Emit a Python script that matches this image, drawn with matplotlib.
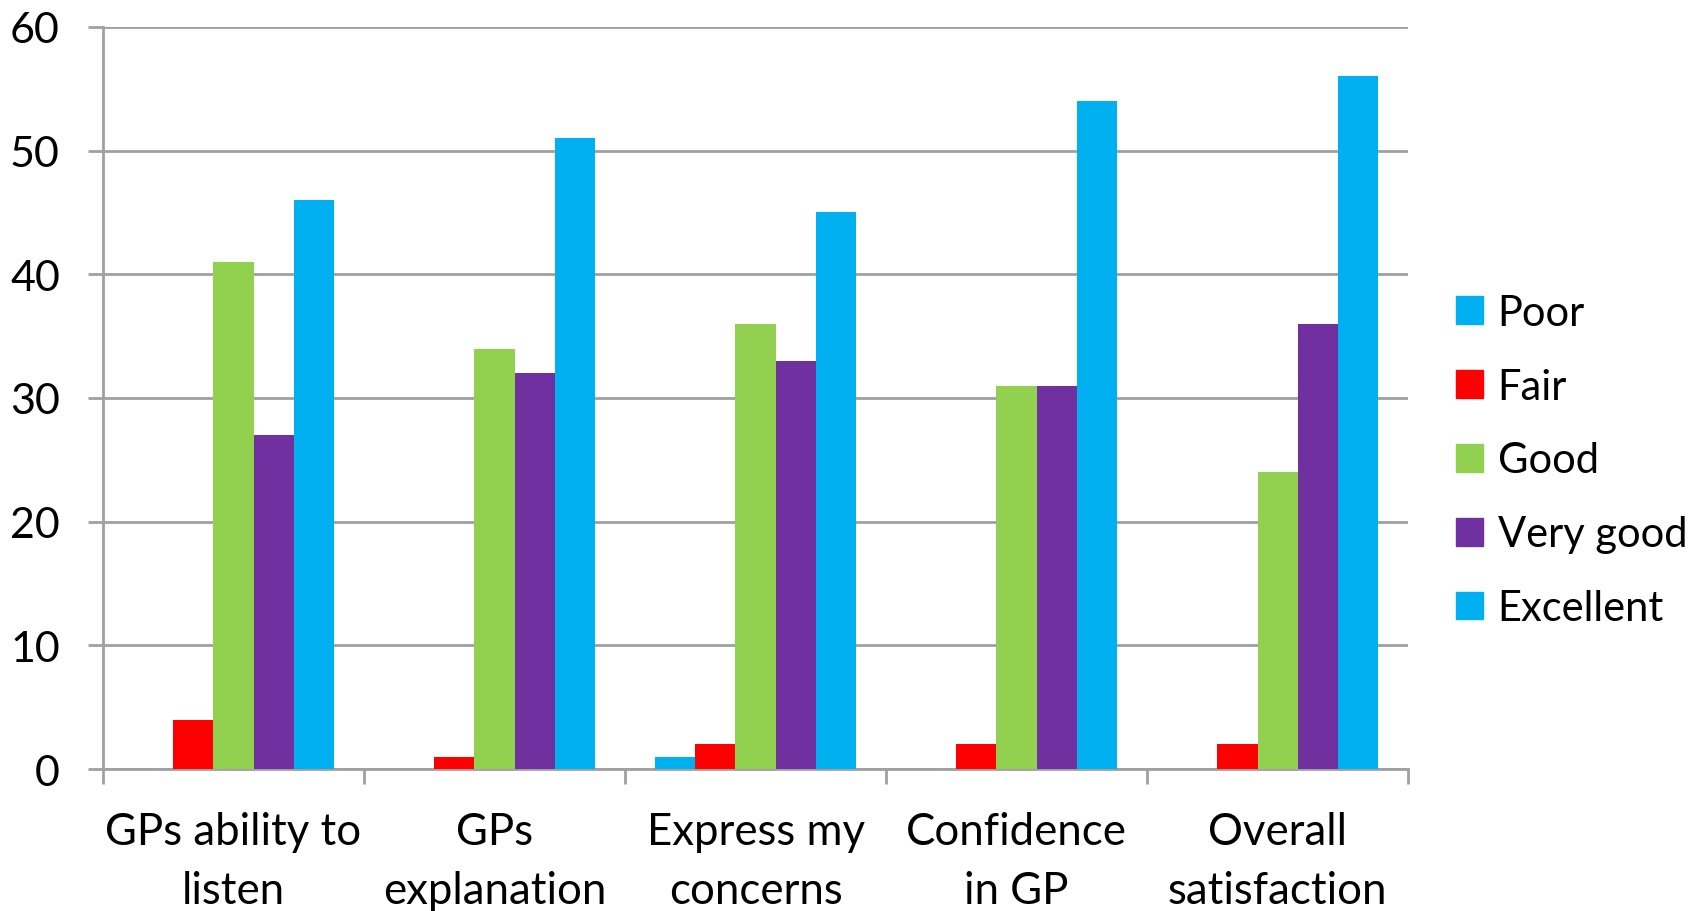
import matplotlib
matplotlib.use("Agg")
import matplotlib.pyplot as plt
from matplotlib.patches import Patch
import numpy as np

plt.rcParams['font.family'] = ['Lato', 'DejaVu Sans']

# donnees
categories = ["GPs ability to\nlisten", "GPs\nexplanation", "Express my\nconcerns",
              "Confidence\nin GP", "Overall\nsatisfaction"]
series = ["Poor", "Fair", "Good", "Very good", "Excellent"]
poor = [0, 0, 1, 0, 0]
fair = [4, 1, 2, 2, 2]
good = [41, 34, 36, 31, 24]
very_good = [27, 32, 33, 31, 36]
excellent = [46, 51, 45, 54, 56]
colors = ["#00B0F0", "#FF0000", "#92D050", "#7030A0", "#00B0F0"]

values = [poor, fair, good, very_good, excellent]

fig = plt.figure(figsize=(17.07, 9.12), dpi=100)
ax = fig.add_axes([0.0603, 0.1557, 0.7646, 0.8136])

x = np.arange(len(categories))
width = 1 / 6.5
for i, (name, vals) in enumerate(zip(series, values)):
    ax.bar(x + (i - 2) * width, vals, width, color=colors[i], label=name, zorder=3)

ax.set_xlim(-0.5, len(categories) - 0.5)
ax.set_ylim(0, 60)
ax.set_yticks(range(0, 61, 10))
ax.yaxis.grid(True, color="#A0A0A0", linewidth=2, zorder=0)

# ticks aux limites des categories, libelles au centre
ax.set_xticks(np.arange(-0.5, len(categories), 1))
ax.set_xticklabels([])
ax.set_xticks(x, minor=True)
ax.set_xticklabels(categories, minor=True, fontsize=31.5, linespacing=1.55)
ax.tick_params(axis='x', which='minor', length=0, pad=30)
ax.tick_params(axis='x', which='major', length=11, width=2, color="#A0A0A0")
ax.tick_params(axis='y', length=11, width=2, color="#A0A0A0", labelsize=31, pad=20)

for s in ["top", "right"]:
    ax.spines[s].set_visible(False)
for s in ["left", "bottom"]:
    ax.spines[s].set_color("#A0A0A0")
    ax.spines[s].set_linewidth(2)

handles = [Patch(color=c) for c in colors]
fig.legend(handles, series, loc="center left", bbox_to_anchor=(0.853, 0.494),
           frameon=False, fontsize=30, handlelength=0.65, handleheight=0.65,
           handletextpad=0.35, labelspacing=0.86, borderaxespad=0, borderpad=0)

plt.savefig("out.png", dpi=100)
